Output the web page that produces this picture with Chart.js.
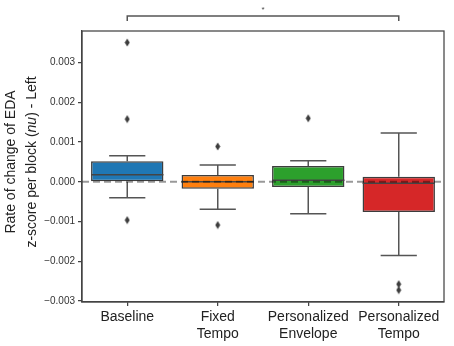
<!DOCTYPE html>
<html>
<head>
<meta charset="utf-8">
<script src="https://cdn.jsdelivr.net/npm/chart.js@4"></script>
<style>
  html, body { margin: 0; padding: 0; background: #fff; }
  #wrap { width: 454px; height: 346px; }
</style>
</head>
<body>
<div id="wrap"><canvas id="chart" width="454" height="346"></canvas></div>
<script>
// EDA rate of change by condition (boxplot)
const categories = [['Baseline'], ['Fixed', 'Tempo'], ['Personalized', 'Envelope'], ['Personalized', 'Tempo']];
const boxColors = ['#1f77b4', '#ff7f0e', '#2ca02c', '#d62728'];
const q1 = [0.0, -0.000176, -0.000134, -0.000763];
const q3 = [0.00052, 0.000169, 0.000395, 0.000124];
const medians = [0.000176, 0.0, 0.00004, -0.00004];
const whiskerLow = [-0.000403, -0.00069, -0.000806, -0.00186];
const whiskerHigh = [0.000655, 0.00042, 0.00053, 0.00123];
const outliers = [
  [0, 0.00351], [0, 0.00158], [0, -0.000965],
  [1, 0.00089], [1, -0.00109],
  [2, 0.0016],
  [3, -0.00258], [3, -0.00273]
];
const yTicks = [-0.003, -0.002, -0.001, 0.0, 0.001, 0.002, 0.003];
const yMin = -0.00303, yMax = 0.0038;

const ctx = document.getElementById('chart');
const labelKeys = categories.map(c => c.join(' '));

// thin diamond marker like seaborn 'd'
const diamond = document.createElement('canvas');
diamond.width = 6; diamond.height = 9;
(function () {
  const c = diamond.getContext('2d');
  c.fillStyle = '#3d3d3d';
  c.beginPath();
  c.moveTo(3, 0.5); c.lineTo(5.5, 4.5); c.lineTo(3, 8.5); c.lineTo(0.5, 4.5);
  c.closePath(); c.fill();
})();

const boxPlugin = {
  id: 'boxParts',
  afterDatasetsDraw(chart) {
    const x = chart.scales.x, y = chart.scales.y, g = chart.ctx;
    const bars = chart.getDatasetMeta(0).data;
    const area = chart.chartArea;
    g.save();
    g.lineWidth = 1.5;
    g.strokeStyle = '#555';
    g.lineCap = 'butt';
    bars.forEach((bar, i) => {
      const cx = x.getPixelForValue(i);
      const half = bar.width / 2;
      const cap = bar.width / 4;
      const yHi = y.getPixelForValue(whiskerHigh[i]);
      const yLo = y.getPixelForValue(whiskerLow[i]);
      const yQ3 = y.getPixelForValue(q3[i]);
      const yQ1 = y.getPixelForValue(q1[i]);
      const yMed = y.getPixelForValue(medians[i]);
      g.beginPath();
      g.moveTo(cx, yQ3); g.lineTo(cx, yHi);
      g.moveTo(cx - cap, yHi); g.lineTo(cx + cap, yHi);
      g.moveTo(cx, yQ1); g.lineTo(cx, yLo);
      g.moveTo(cx - cap, yLo); g.lineTo(cx + cap, yLo);
      g.stroke();
      g.beginPath();
      g.strokeStyle = '#444';
      g.moveTo(cx - half, yMed); g.lineTo(cx + half, yMed);
      g.stroke();
      g.strokeStyle = '#555';
    });
    // zero reference line
    const y0 = y.getPixelForValue(0);
    g.setLineDash([7, 4]);
    g.lineWidth = 2;
    g.strokeStyle = 'rgba(0,0,0,0.4)';
    g.beginPath();
    g.moveTo(area.left, y0); g.lineTo(area.right, y0);
    g.stroke();
    g.restore();
  },
  afterDraw(chart) {
    const x = chart.scales.x, g = chart.ctx;
    const area = chart.chartArea;
    g.save();
    // frame (top and right spines)
    g.strokeStyle = '#444';
    g.lineWidth = 1.25;
    g.strokeRect(area.left, area.top, area.right - area.left, area.bottom - area.top);
    // significance bracket
    const x1 = x.getPixelForValue(0), x2 = x.getPixelForValue(3);
    g.strokeStyle = '#555';
    g.lineWidth = 1.5;
    g.beginPath();
    g.moveTo(x1, 21); g.lineTo(x1, 16); g.lineTo(x2, 16); g.lineTo(x2, 21);
    g.stroke();
    g.fillStyle = '#444';
    g.font = '8px "Liberation Sans", Arial, sans-serif';
    g.textAlign = 'center';
    g.textBaseline = 'middle';
    g.fillText('*', (x1 + x2) / 2, 10);
    // y axis title with italic unit
    g.translate(11, 162);
    g.rotate(-Math.PI / 2);
    g.fillStyle = '#222';
    g.font = '14px "Liberation Sans", Arial, sans-serif';
    g.fillText('Rate of change of EDA', 0, 0);
    const parts = [['z-score per block (', false], ['nu', true], [') - Left', false]];
    const fontN = '14px "Liberation Sans", Arial, sans-serif';
    const fontI = 'italic 14px "Liberation Sans", Arial, sans-serif';
    let total = 0;
    parts.forEach(p => { g.font = p[1] ? fontI : fontN; total += g.measureText(p[0]).width; });
    let u = -total / 2;
    g.textAlign = 'left';
    parts.forEach(p => {
      g.font = p[1] ? fontI : fontN;
      g.fillText(p[0], u, 21);
      u += g.measureText(p[0]).width;
    });
    g.restore();
  }
};

new Chart(ctx, {
  type: 'bar',
  data: {
    labels: labelKeys,
    datasets: [
      {
        data: q1.map((v, i) => [v, q3[i]]),
        backgroundColor: boxColors,
        borderColor: '#3d3d3d',
        borderWidth: 1.5,
        borderSkipped: false,
        barPercentage: 0.8,
        categoryPercentage: 1.0
      },
      {
        type: 'line',
        data: outliers.map(o => ({ x: labelKeys[o[0]], y: o[1] })),
        showLine: false,
        pointStyle: diamond,
        pointRadius: 4
      }
    ]
  },
  options: {
    responsive: false,
    animation: false,
    devicePixelRatio: 1,
    layout: { padding: { top: 31, right: 10, left: 0, bottom: 0 } },
    plugins: { legend: { display: false }, tooltip: { enabled: false } },
    scales: {
      x: {
        grid: { display: true, drawOnChartArea: false, offset: false, tickLength: 4, color: '#444', lineWidth: 1.25 },
        border: { color: '#444', width: 1.25 },
        ticks: {
          color: '#222',
          padding: 3,
          font: { family: '"Liberation Sans", Arial, sans-serif', size: 14, lineHeight: 1.22 },
          maxRotation: 0,
          autoSkip: false,
          callback: (v, i) => categories[i]
        },
        afterFit: s => { s.height = 44; }
      },
      y: {
        min: yMin,
        max: yMax,
        afterBuildTicks: s => { s.ticks = yTicks.map(v => ({ value: v })); },
        grid: { display: true, drawOnChartArea: false, tickLength: 4, color: '#444', lineWidth: 1.25 },
        border: { color: '#444', width: 1.25 },
        ticks: {
          color: '#333',
          padding: 3,
          font: { family: '"Liberation Sans", Arial, sans-serif', size: 10 },
          callback: v => (v < 0 ? '\u2212' : '') + Math.abs(v).toFixed(3)
        },
        afterFit: s => { s.width = 82; }
      }
    }
  },
  plugins: [boxPlugin]
});
</script>
</body>
</html>
